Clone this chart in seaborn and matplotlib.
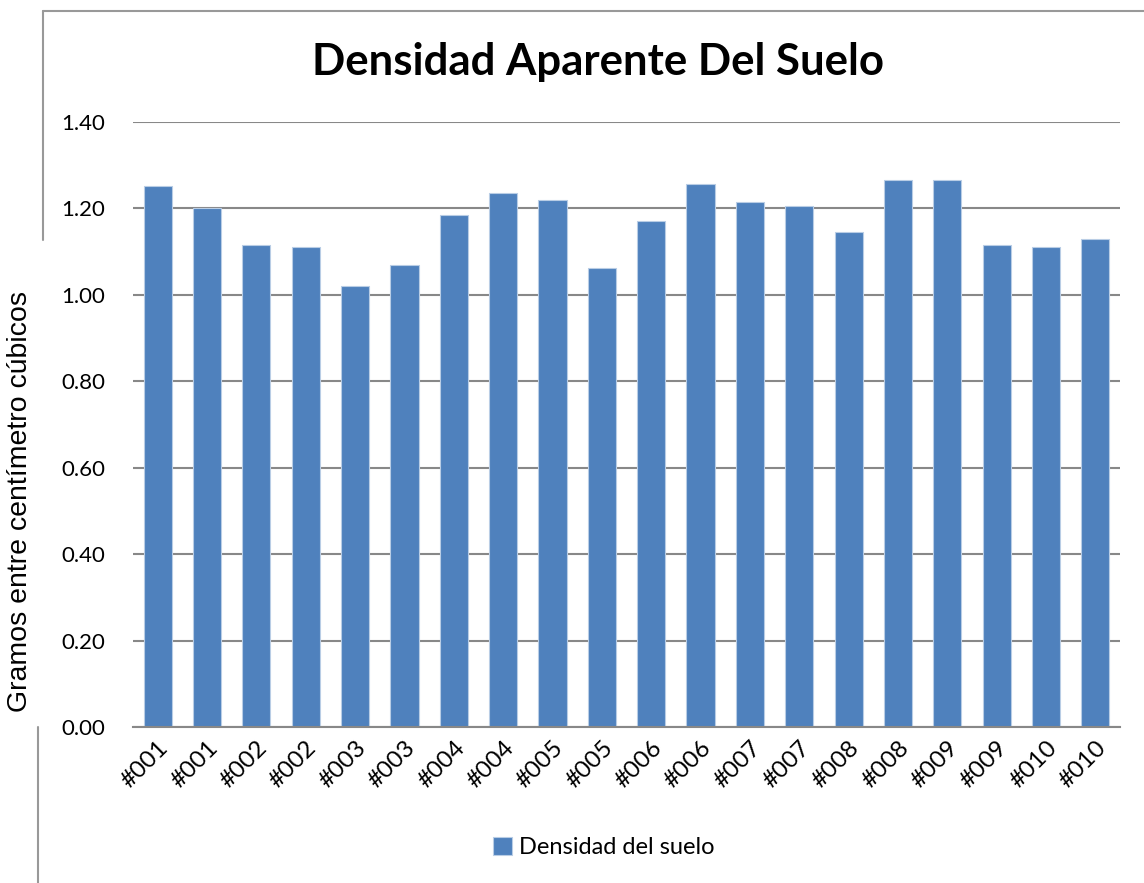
import pandas as pd
import matplotlib.pyplot as plt
from matplotlib.lines import Line2D
import seaborn as sns

# sample codes (each sampled twice) and bulk density in g/cm3
muestras = ['#001', '#001', '#002', '#002', '#003', '#003', '#004', '#004',
            '#005', '#005', '#006', '#006', '#007', '#007', '#008', '#008',
            '#009', '#009', '#010', '#010']
densidad = [1.253, 1.202, 1.115, 1.110, 1.020, 1.069, 1.184, 1.236,
            1.219, 1.062, 1.171, 1.256, 1.215, 1.205, 1.145, 1.267,
            1.266, 1.115, 1.111, 1.130]
y_ticks = [0.0, 0.2, 0.4, 0.6, 0.8, 1.0, 1.2, 1.4]

df = pd.DataFrame({'pos': range(len(muestras)), 'Densidad': densidad})

sns.set_style('white', {'text.color': 'black', 'axes.labelcolor': 'black',
                        'xtick.color': 'black', 'ytick.color': 'black'})
plt.rcParams['font.family'] = ['Lato', 'DejaVu Sans']

fig = plt.figure(figsize=(11.44, 8.83), dpi=100)
ax = fig.add_axes([0.1163, 0.1767, 0.979 - 0.1163, 0.8618 - 0.1767])

sns.barplot(data=df, x='pos', y='Densidad', color='#4F81BD', saturation=1,
            width=0.57, edgecolor='#B9CDE5', linewidth=0.8,
            label='Densidad del suelo', ax=ax, zorder=3)

ax.set_ylim(0, 1.4)
ax.set_yticks(y_ticks)
ax.set_yticklabels([f'{v:.2f}' for v in y_ticks], fontsize=16)
ax.set_xticks(range(len(muestras)))
ax.set_xticklabels(muestras, rotation=45, ha='right', rotation_mode='anchor',
                   fontsize=17.5)
ax.tick_params(axis='y', length=0, pad=20)
ax.tick_params(axis='x', length=0, pad=7)
ax.yaxis.grid(True, color='#888888', linewidth=1.5, zorder=0)
ax.set_axisbelow(True)
for s in ['left', 'right', 'top']:
    ax.spines[s].set_visible(False)
ax.spines['bottom'].set_color('#888888')
ax.spines['bottom'].set_linewidth(1.5)
ax.spines['bottom'].set_zorder(4)

ax.set_xlabel('')
ax.set_ylabel('Gramos entre centímetro cúbicos', fontsize=20.5,
              family=['Liberation Sans', 'DejaVu Sans'])
ax.yaxis.set_label_coords(-0.101, 0.372)

fig.text(0.523, 0.93, 'Densidad Aparente Del Suelo', ha='center', va='center',
         fontsize=31.5, fontweight='bold', color='black')

ax.legend(loc='center', bbox_to_anchor=(0.5275, 0.04), bbox_transform=fig.transFigure,
          frameon=False, fontsize=17, handlelength=0.8, handleheight=0.8,
          handletextpad=0.3)

# partial chart-area frame seen in the screenshot
frame = dict(color='#999999', linewidth=1.5, transform=fig.transFigure)
fig.add_artist(Line2D([0.0373, 1.0], [0.988, 0.988], **frame))
fig.add_artist(Line2D([0.0373, 0.0373], [0.988, 0.728], **frame))
fig.add_artist(Line2D([0.033, 0.033], [0.177, 0.0], **frame))

plt.savefig('out.png', dpi=100)
